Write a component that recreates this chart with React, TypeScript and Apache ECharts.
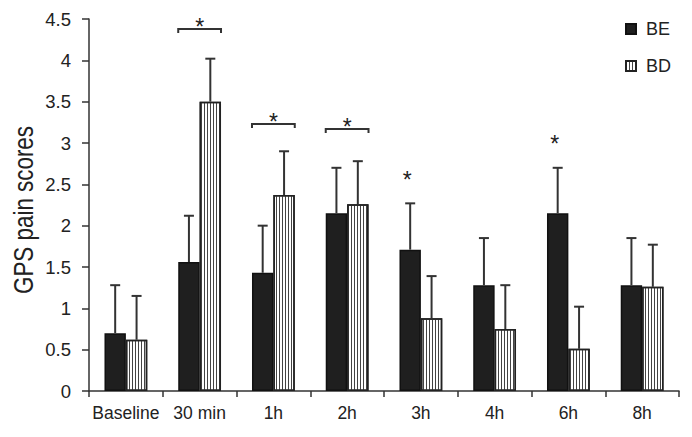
import React, { useEffect, useRef } from 'react';
import * as echarts from 'echarts';

const categories = ['Baseline', '30 min', '1h', '2h', '3h', '4h', '6h', '8h'];
const beMeans = [0.7, 1.56, 1.43, 2.15, 1.71, 1.28, 2.15, 1.28];
const beErrors = [0.58, 0.56, 0.57, 0.55, 0.56, 0.57, 0.55, 0.57];
const bdMeans = [0.62, 3.5, 2.37, 2.26, 0.88, 0.75, 0.51, 1.26];
const bdErrors = [0.53, 0.52, 0.53, 0.52, 0.51, 0.53, 0.51, 0.51];

const bracketCategories = ['30 min', '1h', '2h'];
const bracketLevels = [4.38, 3.23, 3.17];
const starCategories = ['3h', '6h'];
const starLevels = [2.62, 3.06];

const yTitle = 'GPS pain scores';

const FONT = 'Liberation Sans, Arial, sans-serif';
const BAR_FRAC = 0.29;

export default function App() {
  const ref = useRef<HTMLDivElement>(null);
  useEffect(() => {
    const chart = echarts.init(ref.current!, null, { renderer: 'svg' });

    const errData: number[][] = [];
    categories.forEach((_, i) => {
      errData.push([i, 0, beMeans[i], beMeans[i] + beErrors[i]]);
      errData.push([i, 1, bdMeans[i], bdMeans[i] + bdErrors[i]]);
    });
    const bracketData = bracketCategories.map((c, i) => [categories.indexOf(c), bracketLevels[i]]);
    const starData = starCategories.map((c, i) => [categories.indexOf(c), starLevels[i]]);

    const option: any = {
      animation: false,
      textStyle: { fontFamily: FONT },
      grid: { left: 89, right: 13, top: 19, bottom: 46 },
      graphic: [
        {
          type: 'text',
          x: 23,
          y: 210,
          rotation: Math.PI / 2,
          scaleX: 0.8,
          scaleY: 1,
          style: {
            text: yTitle,
            font: '28px ' + FONT,
            fill: '#222',
            align: 'center',
            verticalAlign: 'middle',
          },
        },
      ],
      legend: {
        orient: 'vertical',
        left: 620,
        top: 14,
        itemWidth: 10,
        itemHeight: 10,
        itemGap: 17,
        icon: 'rect',
        data: ['BE', 'BD'],
        textStyle: { fontSize: 18, color: '#222', fontFamily: FONT, padding: [0, 0, 0, 5], lineHeight: 20 },
      },
      xAxis: {
        type: 'category',
        data: categories,
        axisLine: { lineStyle: { color: '#333', width: 1.5 } },
        axisTick: { show: true, length: 6, lineStyle: { color: '#333', width: 1.5 } },
        axisLabel: { color: '#222', fontSize: 17.5, margin: 13, fontFamily: FONT, interval: 0 },
      },
      yAxis: {
        type: 'value',
        min: 0,
        max: 4.5,
        interval: 0.5,
        axisLine: { show: true, lineStyle: { color: '#333', width: 1.5 } },
        axisTick: { show: true, length: 7, lineStyle: { color: '#333', width: 1.5 } },
        axisLabel: { color: '#222', fontSize: 18.5, margin: 18, fontFamily: FONT },
        splitLine: { show: false },
      },
      series: [
        {
          name: 'BE',
          type: 'bar',
          data: beMeans,
          barWidth: '29%',
          barGap: '0%',
          itemStyle: { color: '#1f1f1f', borderColor: '#111', borderWidth: 1.5 },
        },
        {
          name: 'BD',
          type: 'bar',
          data: bdMeans,
          barWidth: '29%',
          barGap: '0%',
          itemStyle: {
            color: '#ffffff',
            borderColor: '#222',
            borderWidth: 1.5,
            decal: {
              symbol: 'rect',
              symbolSize: 1,
              dashArrayX: [1, 1.7],
              dashArrayY: [10, 0],
              rotation: 0,
              color: '#444',
              backgroundColor: '#ffffff',
            },
          },
        },
        {
          type: 'custom',
          name: 'err',
          data: errData,
          z: 5,
          silent: true,
          renderItem: (params: any, api: any) => {
            const cat = api.value(0);
            const side = api.value(1);
            const base = api.coord([cat, api.value(2)]);
            const tip = api.coord([cat, api.value(3)]);
            const bw = api.size([1, 0])[0] * BAR_FRAC;
            const x = base[0] + (side === 0 ? -bw / 2 : bw / 2);
            const st = { stroke: '#333', lineWidth: 2 };
            return {
              type: 'group',
              children: [
                { type: 'line', shape: { x1: x, y1: base[1], x2: x, y2: tip[1] }, style: st },
                { type: 'line', shape: { x1: x - 5, y1: tip[1], x2: x + 5, y2: tip[1] }, style: st },
              ],
            };
          },
        },
        {
          type: 'custom',
          name: 'brackets',
          data: bracketData,
          z: 5,
          silent: true,
          renderItem: (params: any, api: any) => {
            const p = api.coord([api.value(0), api.value(1)]);
            const bw = api.size([1, 0])[0] * BAR_FRAC;
            const l = p[0] - bw;
            const r = p[0] + bw;
            return {
              type: 'group',
              children: [
                {
                  type: 'polyline',
                  shape: { points: [[l, p[1] + 4], [l, p[1]], [r, p[1]], [r, p[1] + 4]] },
                  style: { stroke: '#333', lineWidth: 2, fill: null },
                },
                {
                  type: 'text',
                  style: {
                    text: '*', x: p[0], y: p[1] - 2, align: 'center', verticalAlign: 'middle',
                    font: '23px ' + FONT, fill: '#222',
                  },
                },
              ],
            };
          },
        },
        {
          type: 'custom',
          name: 'stars',
          data: starData,
          z: 5,
          silent: true,
          renderItem: (params: any, api: any) => {
            const p = api.coord([api.value(0), api.value(1)]);
            const bw = api.size([1, 0])[0] * BAR_FRAC;
            return {
              type: 'text',
              style: {
                text: '*', x: p[0] - bw / 2 - 3, y: p[1] + 6, align: 'center', verticalAlign: 'middle',
                font: '23px ' + FONT, fill: '#222',
              },
            };
          },
        },
      ],
    };
    chart.setOption(option);
    return () => chart.dispose();
  }, []);
  return <div ref={ref} style={{ position: 'fixed', left: 0, top: 0, width: 692, height: 437, background: '#fff' }} />;
}
